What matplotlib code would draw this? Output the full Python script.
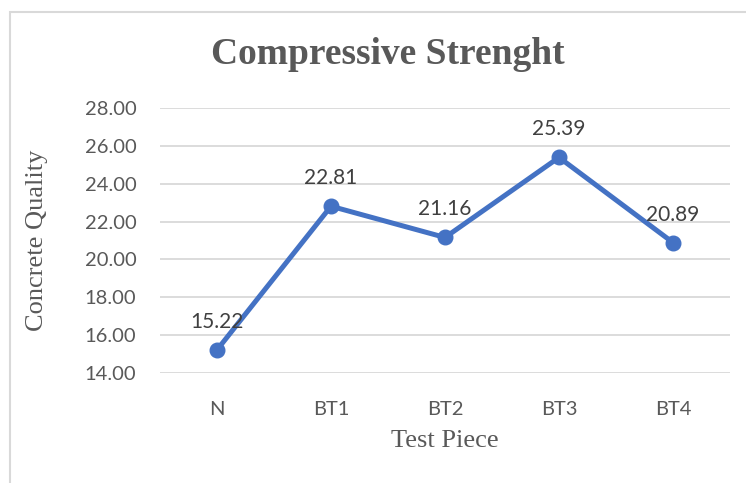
import matplotlib
matplotlib.use("Agg")
import matplotlib.pyplot as plt
from matplotlib.patches import Rectangle

pieces = ["N", "BT1", "BT2", "BT3", "BT4"]
strength = [15.22, 22.81, 21.16, 25.39, 20.89]
y_ticks = [14, 16, 18, 20, 22, 24, 26, 28]

W, H = 746, 483
fig = plt.figure(figsize=(W / 100, H / 100), dpi=100)

# chart frame (runs off right and bottom edges)
fig.patches.append(Rectangle((10 / W, -0.1), 1.0, (H - 12) / H + 0.1,
                             transform=fig.transFigure, fill=False,
                             edgecolor="#d9d9d9", linewidth=1.5))

ax = fig.add_axes([160 / W, 1 - 373 / H, 570 / W, (373 - 108) / H])
x = range(len(pieces))
ax.plot(x, strength, color="#4472c4", linewidth=3.6, marker="o",
        markersize=10.5, solid_capstyle="round")
for i, v in zip(x, strength):
    ax.annotate(f"{v:.2f}", (i, v), xytext=(0, 13), textcoords="offset points",
                ha="center", va="bottom", fontsize=15, color="#404040",
                family="Lato")

ax.set_xlim(-0.5, len(pieces) - 0.5)
ax.set_ylim(14, 28)
ax.set_yticks(y_ticks)
ax.set_yticklabels([f"{t:.2f}" for t in y_ticks])
ax.set_xticks(list(x))
ax.set_xticklabels(pieces)
ax.grid(axis="y", color="#d9d9d9", linewidth=1.3)
ax.set_axisbelow(True)
for s in ax.spines.values():
    s.set_visible(False)
ax.tick_params(length=0, labelsize=14.5, colors="#595959", pad=17)
ax.tick_params(axis="x", pad=20)
for lbl in ax.get_xticklabels() + ax.get_yticklabels():
    lbl.set_family("Lato")

fig.text(388 / W, 1 - 55 / H, "Compressive Strenght", ha="center", va="center",
         fontsize=27, fontweight="bold", family="Liberation Serif", color="#595959")
fig.text(37 / W, 1 - 240 / H, "Concrete Quality", ha="center", va="center",
         rotation=90, fontsize=19, family="Liberation Serif", color="#595959")
fig.text(445 / W, 1 - 441 / H, "Test Piece", ha="center", va="center",
         fontsize=19, family="Liberation Serif", color="#595959")

fig.savefig("out.png", dpi=100)
